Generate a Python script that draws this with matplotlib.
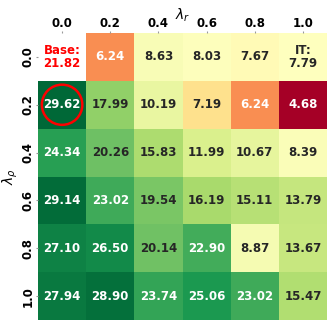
import numpy as np
import matplotlib
matplotlib.use("Agg")
import matplotlib.pyplot as plt
import seaborn as sns
from matplotlib.colors import TwoSlopeNorm
from matplotlib.patches import Circle

# lambda_r on columns, lambda_rho on rows
lambda_r = ["0.0", "0.2", "0.4", "0.6", "0.8", "1.0"]
lambda_rho = ["0.0", "0.2", "0.4", "0.6", "0.8", "1.0"]

base_score = 21.82
it_score = 7.79

scores = np.array([
    [np.nan, 6.24, 8.63, 8.03, 7.67, it_score],
    [29.62, 17.99, 10.19, 7.19, 6.24, 4.68],
    [24.34, 20.26, 15.83, 11.99, 10.67, 8.39],
    [29.14, 23.02, 19.54, 16.19, 15.11, 13.79],
    [27.10, 26.50, 20.14, 22.90, 8.87, 13.67],
    [27.94, 28.90, 23.74, 25.06, 23.02, 15.47],
])

labels = np.array([["" if np.isnan(v) else f"{v:.2f}" for v in row] for row in scores], dtype=object)
labels[0, 5] = f"IT:\n{it_score:.2f}"

mask = np.isnan(scores)
norm = TwoSlopeNorm(vmin=np.nanmin(scores), vcenter=it_score, vmax=np.nanmax(scores))

fig = plt.figure(figsize=(3.32, 3.25), dpi=100)
ax = fig.add_axes([0.1145, 0.0154, 0.8705, 0.883])

sns.heatmap(scores, ax=ax, mask=mask, cmap="RdYlGn", norm=norm, annot=labels, fmt="",
            cbar=False, annot_kws={"fontsize": 8.5, "fontweight": "bold", "linespacing": 1.0},
            xticklabels=lambda_r, yticklabels=lambda_rho)

ax.text(0.5, 0.5, f"Base:\n{base_score:.2f}", color="red", ha="center", va="center",
        fontsize=8.5, fontweight="bold", linespacing=1.0)

# mark the best cell
best = np.unravel_index(np.nanargmax(scores), scores.shape)
ax.add_patch(Circle((best[1] + 0.5, best[0] + 0.5), 0.42, fill=False, ec="red", lw=1.8, clip_on=False))

ax.xaxis.tick_top()
ax.xaxis.set_label_position("top")
ax.tick_params(length=1.5, pad=1, color="#999999")
ax.set_xlabel(r"$\lambda_r$", fontsize=10, labelpad=-2)
ax.set_ylabel(r"$\lambda_\rho$", fontsize=10, labelpad=1)
plt.setp(ax.get_xticklabels(), fontweight="bold", fontsize=8.5, rotation=0)
plt.setp(ax.get_yticklabels(), fontweight="bold", fontsize=8.5, rotation=90, va="center")

fig.savefig("out.png", dpi=100)
